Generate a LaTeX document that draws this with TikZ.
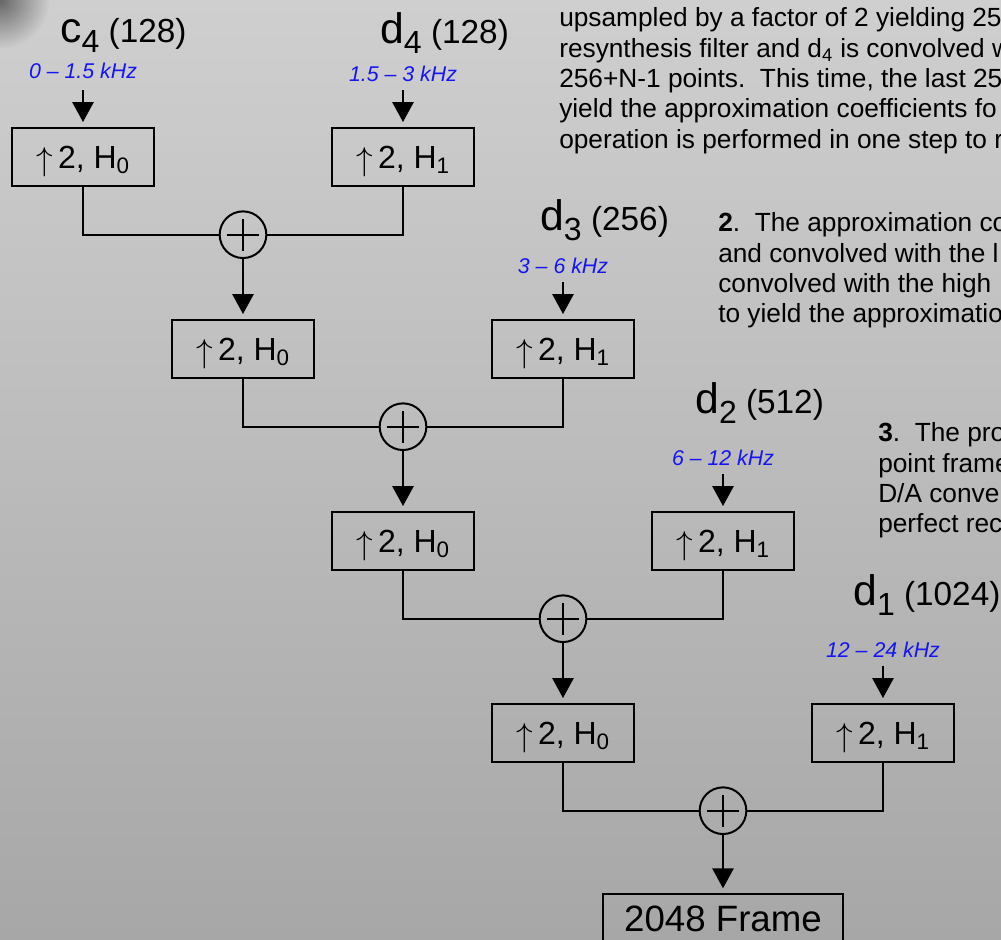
\documentclass[tikz,border=0pt]{standalone}
\usepackage{fontspec}
\setmainfont{Liberation Sans}
\usepackage{tikz}
\usetikzlibrary{positioning,arrows.meta,calc}
\definecolor{freqBlue}{HTML}{1414F5}
\definecolor{metalTop}{HTML}{CFCFCF}
\definecolor{metalBot}{HTML}{A7A7A7}

\newcommand{\coef}[3]{{\fontsize{32}{35}\selectfont #1}\raisebox{-7.5pt}{\fontsize{24}{26}\selectfont #2}{\fontsize{25}{28}\selectfont\ (#3)}}
\newcommand{\upfilt}[1]{\raisebox{-1.5pt}{\fontsize{27}{28}\selectfont$\uparrow$}\,2, H\textsubscript{#1}}

\begin{document}
\begin{tikzpicture}[
    x=0.75pt, y=-0.75pt,
    filt/.style={draw, line width=1.5pt, minimum width=107pt, minimum height=43.5pt, inner sep=0pt, text height=17.2pt, text depth=0pt, font=\fontsize{24}{26}\selectfont},
    adder/.style={circle, draw, line width=1.5pt, minimum size=35pt, inner sep=0pt,
      path picture={\draw[line width=1.5pt] ($(path picture bounding box.center)+(-12pt,0)$) -- ($(path picture bounding box.center)+(12pt,0)$)
        ($(path picture bounding box.center)+(0,-12pt)$) -- ($(path picture bounding box.center)+(0,12pt)$);}},
    freq/.style={inner sep=0pt, anchor=base, text=freqBlue, font=\fontsize{16}{18}\selectfont\itshape},
    lbl/.style={inner sep=0pt, anchor=base west},
    para/.style={inner sep=0pt, anchor=base west, font=\fontsize{19.7}{22.8}\selectfont},
    wire/.style={line width=1.5pt},
    arr/.style={-{Triangle[width=16pt,length=15pt]}, line width=1.5pt, shorten >=3.75pt}
  ]
  \useasboundingbox (0,0) rectangle (1001,940);
  \clip (0,0) rectangle (1001,940);
  % brushed metal background
  \shade[top color=metalTop, bottom color=metalBot] (0,0) rectangle (1001,940);
  \shade[inner color=black!60, outer color=metalTop] (0,0) circle (50);

  % synthesis stages
  \node[filt] (lo1) at (83,157) {\upfilt{0}};
  \node[filt] (hi1) at (403,157) {\upfilt{1}};
  \node[adder] (add1) at (243,234.7) {};
  \node[filt] (lo2) at (243,349) {\upfilt{0}};
  \node[filt] (hi2) at (563,349) {\upfilt{1}};
  \node[adder] (add2) at (403,426.7) {};
  \node[filt] (lo3) at (403,541) {\upfilt{0}};
  \node[filt] (hi3) at (723,541) {\upfilt{1}};
  \node[adder] (add3) at (563,618.7) {};
  \node[filt] (lo4) at (563,733) {\upfilt{0}};
  \node[filt] (hi4) at (883,733) {\upfilt{1}};
  \node[adder] (add4) at (723,810.7) {};
  \node[filt, anchor=north, minimum width=179.5pt, minimum height=38.6pt, text height=17.6pt, font=\fontsize{27.5}{30}\selectfont] (frame) at (723,893.3) {2048 Frame};

  % coefficient inputs
  \node[lbl] (c4) at (60,42) {\coef{c}{4}{128}};
  \node[lbl] (d4) at (380,43.3) {\coef{d}{4}{128}};
  \node[lbl] (d3) at (540,230) {\coef{d}{3}{256}};
  \node[lbl] (d2) at (695,413) {\coef{d}{2}{512}};
  \node[lbl] (d1) at (853,605) {\coef{d}{1}{1024}};
  \node[freq] (band0) at (83,78) {0 – 1.5 kHz};
  \node[freq] (band1) at (403,81.7) {1.5 – 3 kHz};
  \node[freq] (band2) at (563,273.7) {3 – 6 kHz};
  \node[freq] (band3) at (723,465.7) {6 – 12 kHz};
  \node[freq] (band4) at (883,657.7) {12 – 24 kHz};
  \coordinate (in0) at (83,90);
  \coordinate (in1) at (403,90);
  \coordinate (in2) at (563,282);
  \coordinate (in3) at (723,474);
  \coordinate (in4) at (883,666);

  \draw[arr] (in0) -- (lo1);
  \draw[arr] (in1) -- (hi1);
  \draw[arr] (in2) -- (hi2);
  \draw[arr] (in3) -- (hi3);
  \draw[arr] (in4) -- (hi4);

  \draw[wire] (lo1.south) |- (add1.west);
  \draw[wire] (hi1.south) |- (add1.east);
  \draw[arr] (add1) -- (lo2);
  \draw[wire] (lo2.south) |- (add2.west);
  \draw[wire] (hi2.south) |- (add2.east);
  \draw[arr] (add2) -- (lo3);
  \draw[wire] (lo3.south) |- (add3.west);
  \draw[wire] (hi3.south) |- (add3.east);
  \draw[arr] (add3) -- (lo4);
  \draw[wire] (lo4.south) |- (add4.west);
  \draw[wire] (hi4.south) |- (add4.east);
  \draw[arr] (add4) -- (frame);

  % notes on the right
  \node[para] (note1) at (559,26.7) {\parbox[t]{20cm}{upsampled by a factor of 2 yielding 25\\
    resynthesis filter and d\textsubscript{4} is convolved w\\
    256+N-1 points.\ \ This time, the last 25\\
    yield the approximation coefficients fo\\
    operation is performed in one step to r}};
  \node[para] (note2) at (718,231.7) {\parbox[t]{20cm}{\textbf{2}.\ \ The approximation co\\
    and convolved with the l\\
    convolved with the high\\
    to yield the approximatio}};
  \node[para] (note3) at (878,441.7) {\parbox[t]{20cm}{\textbf{3}.\ \ The pro\\
    point frame\\
    D/A conve\\
    perfect rec}};
\end{tikzpicture}
\end{document}
